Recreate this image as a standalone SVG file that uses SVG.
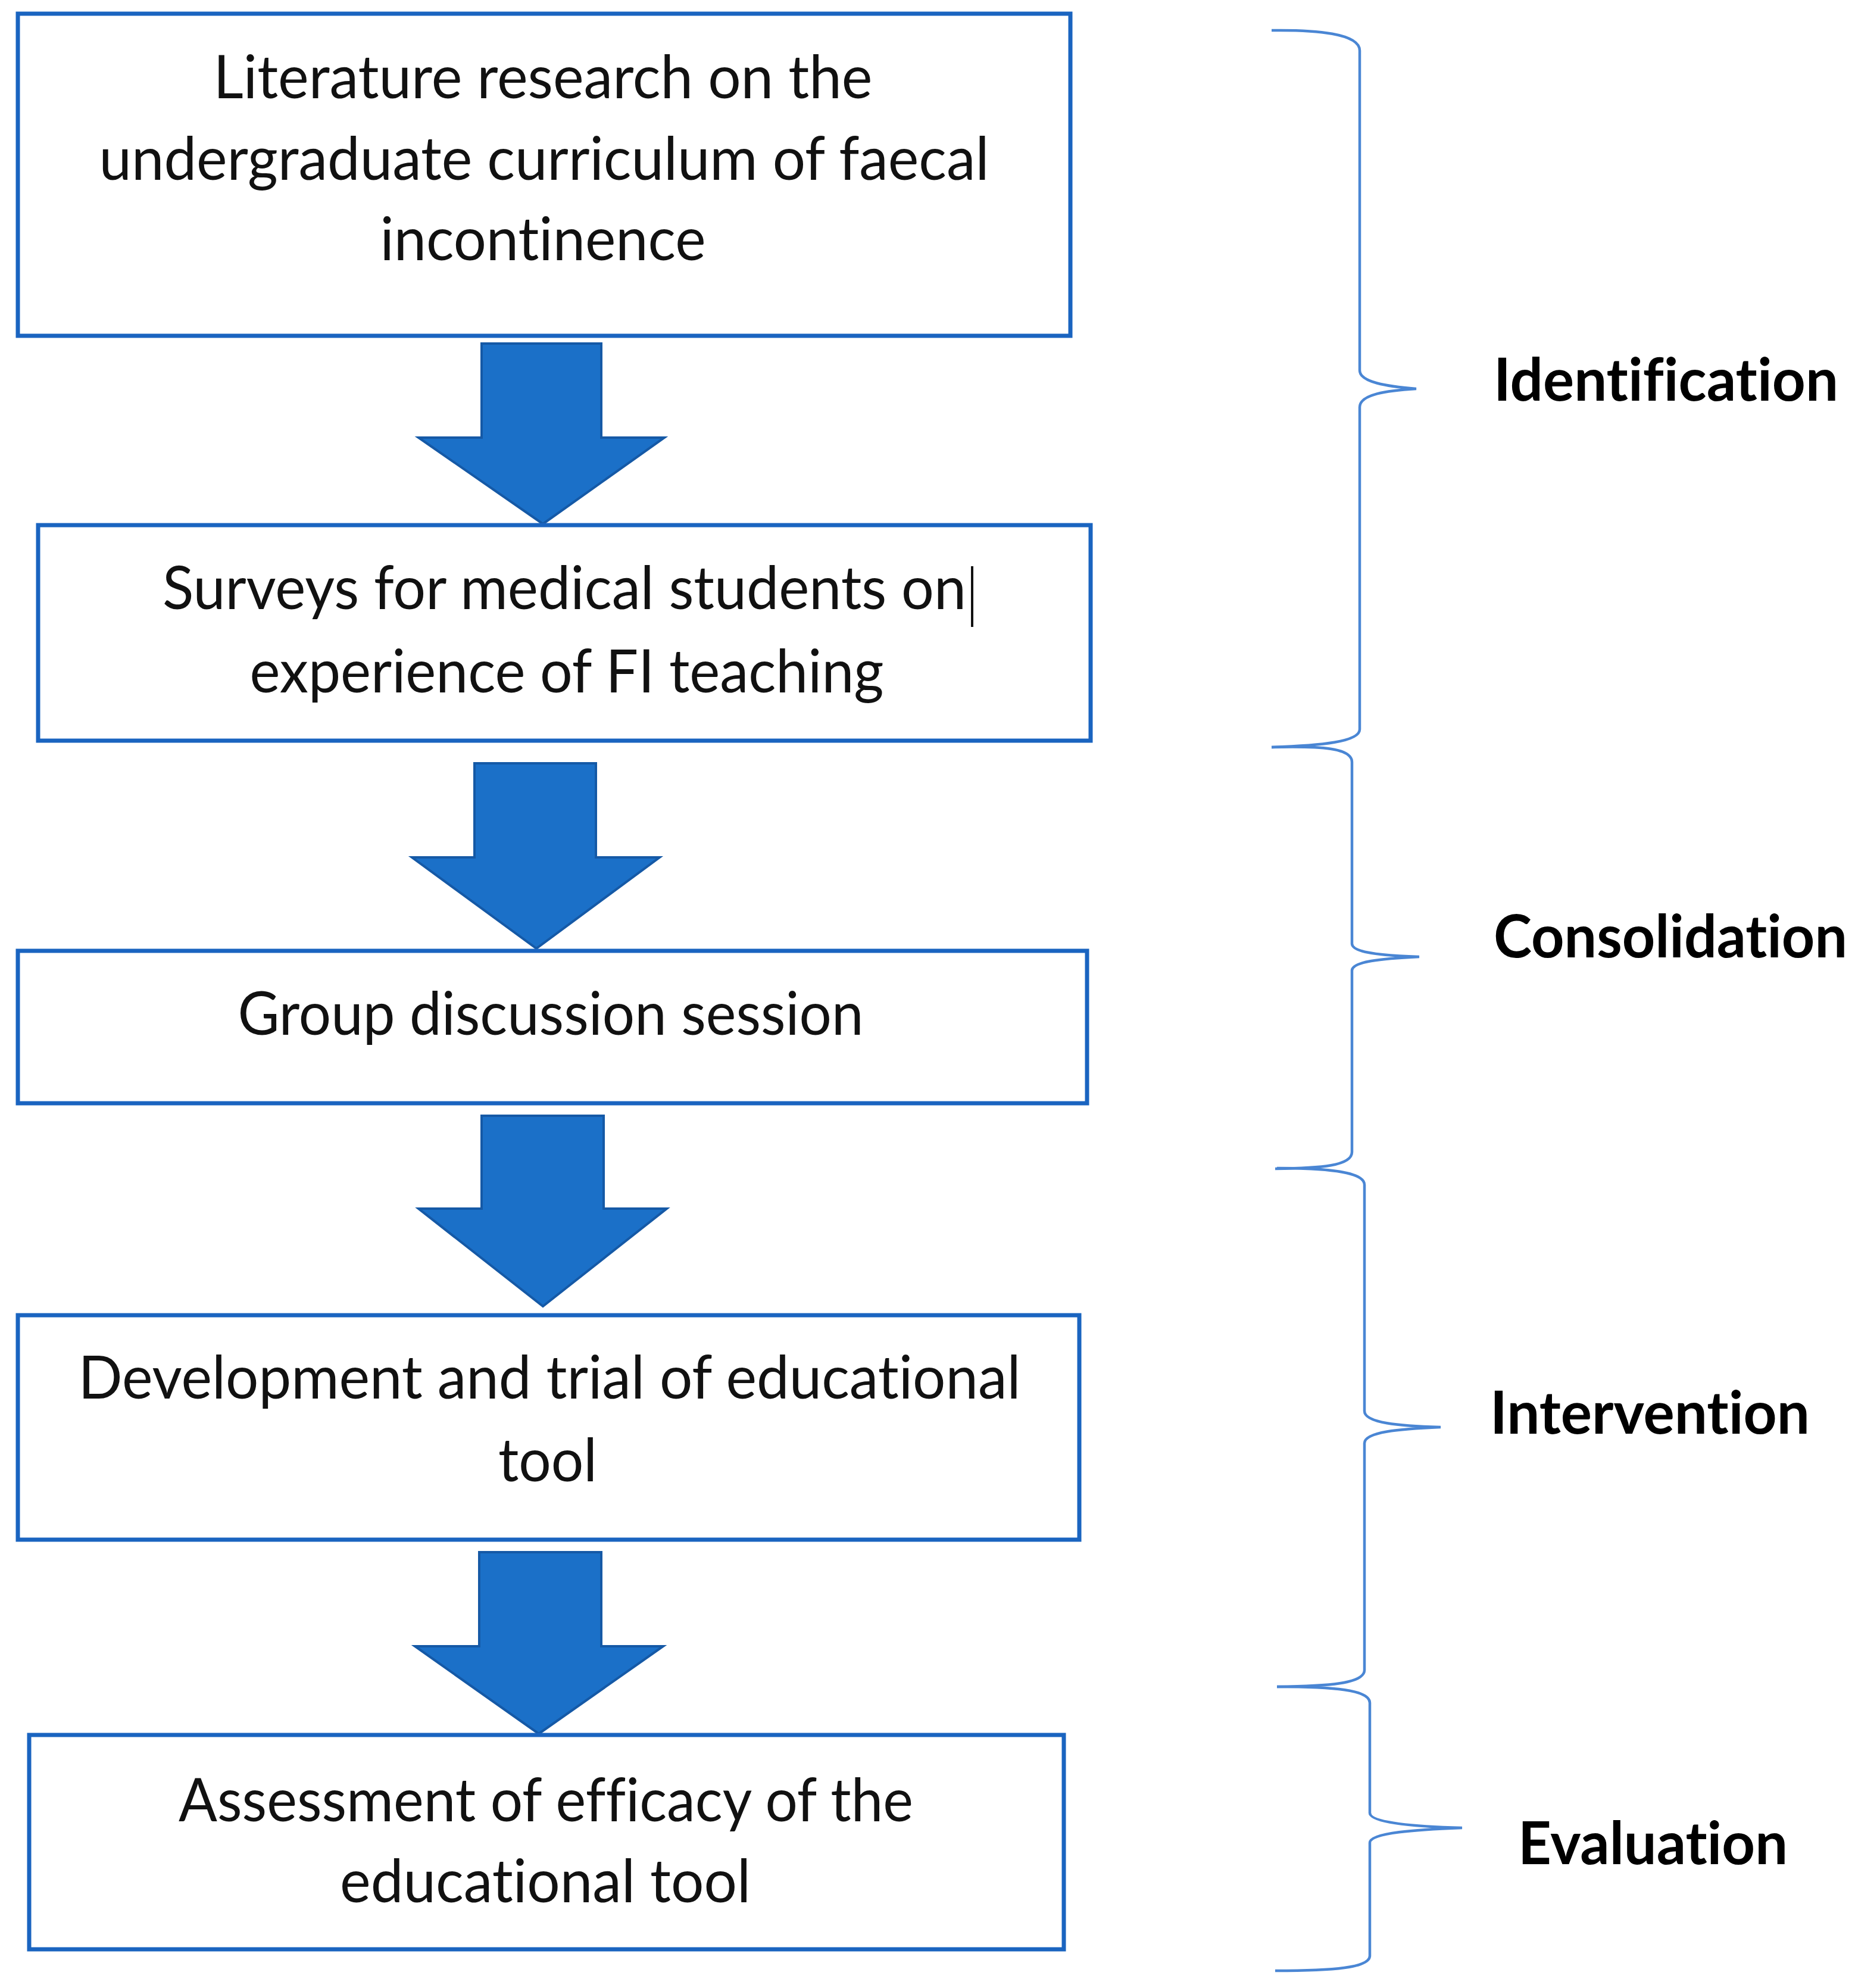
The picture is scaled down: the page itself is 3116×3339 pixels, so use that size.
<svg xmlns="http://www.w3.org/2000/svg" width="3116" height="3339" viewBox="0 0 3116 3339">
<style>
.box{fill:#ffffff;stroke:#1a64c0;stroke-width:7}
.t{font-family:Lato,"Open Sans","Liberation Sans",sans-serif;font-size:100px;fill:#111111;text-anchor:middle;font-variant-ligatures:none;font-feature-settings:"liga" 0,"dlig" 0}
.lbl{font-family:Lato,"Open Sans","Liberation Sans",sans-serif;font-size:100px;font-weight:bold;fill:#000000;font-variant-ligatures:none;font-feature-settings:"liga" 0,"dlig" 0}
.arrow{fill:#1b70c8;stroke:#1559a6;stroke-width:4;stroke-linejoin:miter}
.brace{fill:none;stroke:#4a86d4;stroke-width:4.5}
</style>
<rect width="3116" height="3339" fill="#ffffff"/>
<g id="connectors">
<polygon class="arrow" points="809,577 1010,577 1010,735 1116,735 912,880 703,735 809,735"/>
<polygon class="arrow" points="797,1282 1001,1282 1001,1440 1108,1440 901,1593 692,1440 797,1440"/>
<polygon class="arrow" points="809,1874 1014,1874 1014,2030 1120,2030 912,2194 703,2030 809,2030"/>
<polygon class="arrow" points="805,2607 1010,2607 1010,2765 1114,2765 905,2912 697,2765 805,2765"/>
</g>
<g id="node1">
<rect class="box" x="30" y="23" width="1768" height="541"/>
<text class="t" x="912" y="165" textLength="1107" lengthAdjust="spacingAndGlyphs">Literature research on the</text>
<text class="t" x="914" y="302" textLength="1495" lengthAdjust="spacingAndGlyphs">undergraduate curriculum of faecal</text>
<text class="t" x="912" y="437" textLength="547" lengthAdjust="spacingAndGlyphs">incontinence</text>
</g>
<g id="node2">
<rect class="box" x="64" y="882" width="1768" height="362"/>
<text class="t" x="948" y="1023" textLength="1350" lengthAdjust="spacingAndGlyphs">Surveys for medical students on</text>
<line x1="1633" y1="951" x2="1633" y2="1053" stroke="#111111" stroke-width="4"/>
<text class="t" x="952" y="1163" textLength="1065" lengthAdjust="spacingAndGlyphs">experience of FI teaching</text>
</g>
<g id="node3">
<rect class="box" x="30" y="1597" width="1796" height="256"/>
<text class="t" x="925" y="1738" textLength="1051" lengthAdjust="spacingAndGlyphs">Group discussion session</text>
</g>
<g id="node4">
<rect class="box" x="30" y="2209" width="1783" height="377"/>
<text class="t" x="923" y="2349" textLength="1583" lengthAdjust="spacingAndGlyphs">Development and trial of educational</text>
<text class="t" x="920" y="2488" textLength="166" lengthAdjust="spacingAndGlyphs">tool</text>
</g>
<g id="node5">
<rect class="box" x="49" y="2914" width="1738" height="360"/>
<text class="t" x="917" y="3059" textLength="1234" lengthAdjust="spacingAndGlyphs">Assessment of efficacy of the</text>
<text class="t" x="916" y="3195" textLength="690" lengthAdjust="spacingAndGlyphs">educational tool</text>
</g>
<g id="brace-identification">
<path class="brace" d="M 2136 51 C 2210 50, 2284 56, 2284 85 L 2284 622 C 2284 642, 2330 649, 2379 653 C 2330 656, 2284 662, 2284 684 L 2284 1225 C 2284 1246, 2220 1252, 2136 1255"/>
<text class="lbl" x="2509" y="673" textLength="579" lengthAdjust="spacingAndGlyphs">Identification</text>
</g>
<g id="brace-consolidation">
<path class="brace" d="M 2136 1255 C 2220 1253, 2271 1256, 2271 1280 L 2271 1585 C 2271 1600, 2320 1605, 2384 1607 C 2320 1610, 2271 1615, 2271 1630 L 2271 1935 C 2271 1958, 2220 1962, 2142 1963"/>
<text class="lbl" x="2509" y="1608" textLength="594" lengthAdjust="spacingAndGlyphs">Consolidation</text>
</g>
<g id="brace-intervention">
<path class="brace" d="M 2145 1962 C 2230 1962, 2292 1968, 2292 1990 L 2292 2370 C 2292 2390, 2350 2395, 2420 2397 C 2350 2400, 2292 2405, 2292 2424 L 2292 2805 C 2292 2828, 2230 2832, 2145 2833"/>
<text class="lbl" x="2503" y="2408" textLength="537" lengthAdjust="spacingAndGlyphs">Intervention</text>
</g>
<g id="brace-evaluation">
<path class="brace" d="M 2145 2833 C 2240 2833, 2301 2838, 2301 2860 L 2301 3045 C 2301 3062, 2380 3068, 2456 3070 C 2380 3073, 2301 3078, 2301 3095 L 2301 3285 C 2301 3305, 2240 3310, 2142 3310"/>
<text class="lbl" x="2550" y="3131" textLength="453" lengthAdjust="spacingAndGlyphs">Evaluation</text>
</g>
</svg>
